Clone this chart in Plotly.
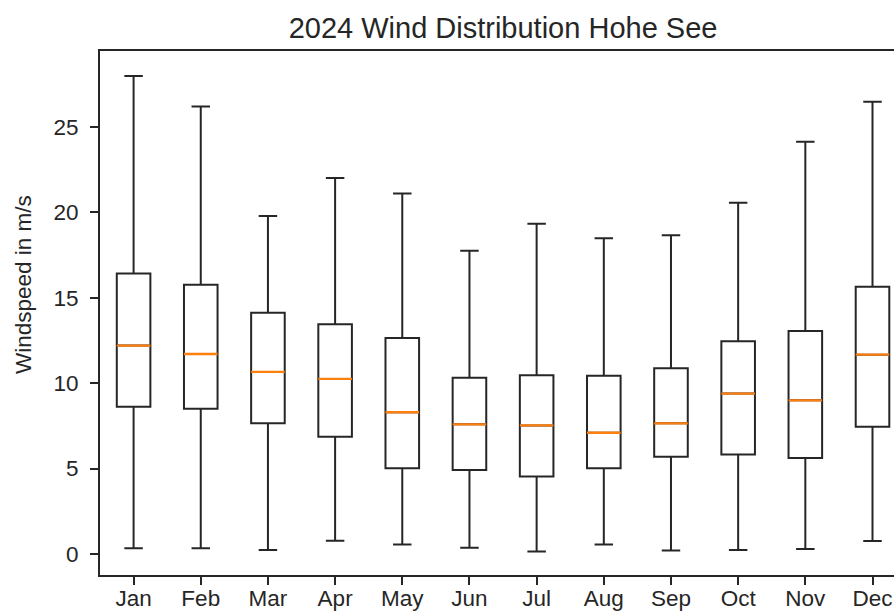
import plotly.graph_objects as go

months = ["Jan", "Feb", "Mar", "Apr", "May", "Jun", "Jul", "Aug", "Sep", "Oct", "Nov", "Dec"]
positions = list(range(1, 13))
whisker_low = [0.33, 0.33, 0.23, 0.78, 0.55, 0.37, 0.14, 0.55, 0.20, 0.23, 0.29, 0.76]
q1 = [8.62, 8.50, 7.65, 6.87, 5.02, 4.92, 4.53, 5.02, 5.70, 5.82, 5.62, 7.45]
median = [12.20, 11.71, 10.66, 10.25, 8.30, 7.59, 7.53, 7.10, 7.65, 9.39, 9.00, 11.67]
q3 = [16.43, 15.77, 14.13, 13.45, 12.65, 10.32, 10.46, 10.44, 10.87, 12.45, 13.06, 15.65]
whisker_high = [27.99, 26.20, 19.79, 22.01, 21.10, 17.76, 19.34, 18.48, 18.66, 20.57, 24.14, 26.48]

BOX_W = 0.5
LINE = "#262626"
FONT = "Liberation Sans, Arial, sans-serif"
X_RANGE = [0.5, 12.32]

fig = go.Figure()
fig.add_trace(go.Box(
    x=positions, q1=q1, median=median, q3=q3,
    lowerfence=whisker_low, upperfence=whisker_high,
    width=BOX_W, whiskerwidth=0.55,
    line=dict(color=LINE, width=2),
    fillcolor="rgba(255,255,255,0)",
    boxpoints=False, showlegend=False, hoverinfo="skip",
))

# orange median lines (on an overlaid axis that carries the month labels)
mx, my = [], []
for p, m in zip(positions, median):
    mx += [p - BOX_W / 2, p + BOX_W / 2, None]
    my += [m, m, None]
fig.add_trace(go.Scatter(x=mx, y=my, mode="lines", xaxis="x2", yaxis="y",
                         line=dict(color="#ff7f0e", width=2.3),
                         showlegend=False, hoverinfo="skip"))

fig.update_layout(
    width=894, height=611,
    margin=dict(l=100, r=0, t=51, b=36, autoexpand=False),
    paper_bgcolor="white", plot_bgcolor="white",
    font=dict(family=FONT, size=22.5, color=LINE),
    title=dict(text="2024 Wind Distribution Hohe See",
               font=dict(family=FONT, size=29, color=LINE),
               x=0.5076, xref="paper", xanchor="center",
               y=1 - 28 / 611, yref="container", yanchor="middle"),
    annotations=[dict(text="Windspeed in m/s", textangle=-90,
                      xref="paper", yref="paper",
                      x=(23 - 100) / 794, y=(575 - 285) / 524,
                      xanchor="center", yanchor="middle", showarrow=False,
                      font=dict(family=FONT, size=22.5, color=LINE))],
    xaxis=dict(
        range=X_RANGE, tickvals=positions, showticklabels=False,
        showgrid=False, zeroline=False,
        showline=True, linecolor=LINE, linewidth=1.8, mirror=True,
        ticks="outside", ticklen=8, tickwidth=1.8, tickcolor=LINE,
        automargin=False,
    ),
    xaxis2=dict(
        overlaying="x", side="bottom", anchor="y",
        range=X_RANGE, tickvals=positions, ticktext=months,
        showgrid=False, zeroline=False, showline=False, ticks="",
        ticklabelstandoff=7, automargin=False,
    ),
    yaxis=dict(
        range=[-1.23, 29.45], tickvals=[0, 5, 10, 15, 20, 25],
        showgrid=False, zeroline=False,
        showline=True, linecolor=LINE, linewidth=1.8, mirror=False,
        ticks="outside", ticklen=8, tickwidth=1.8, tickcolor=LINE,
        ticklabelstandoff=7, automargin=False,
    ),
)

fig.write_html("out.html",
               config={"displayModeBar": False},
               post_script="document.body.style.margin='0';document.body.style.overflow='hidden';")
